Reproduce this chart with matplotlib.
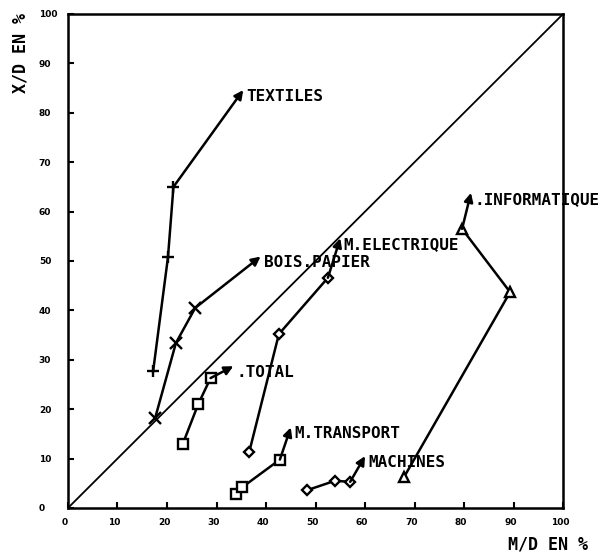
import matplotlib
matplotlib.use('Agg')
import matplotlib.pyplot as plt
from matplotlib.transforms import ScaledTranslation

# Sector trajectories: M/D (x) vs X/D (y), in %, *_tip is where the arrow points
textiles_x = [17.2, 20.2, 21.3]
textiles_y = [27.7, 50.8, 65.0]
textiles_tip = (35.4, 84.6)

bois_x = [17.6, 21.8, 25.7]
bois_y = [18.2, 33.4, 40.5]
bois_tip = (38.9, 50.9)

total_x = [23.2, 26.3, 28.8]
total_y = [13.0, 21.0, 26.3]
total_tip = (33.4, 28.7)

transport_x = [33.9, 35.2, 42.8]
transport_y = [2.8, 4.2, 9.8]
transport_tip = (45.0, 16.3)

elec_x = [36.6, 42.6, 52.5]
elec_y = [11.3, 35.2, 46.6]
elec_tip = (55.0, 54.6)

machines_x = [48.3, 53.9, 57.0]
machines_y = [3.6, 5.5, 5.3]
machines_tip = (60.0, 10.5)

info_x = [67.9, 89.3, 79.6]
info_y = [6.3, 43.7, 56.5]
info_tip = (81.4, 63.8)

ticks = [0, 10, 20, 30, 40, 50, 60, 70, 80, 90, 100]

series = [
    ('TEXTILES', textiles_x, textiles_y, textiles_tip, '+'),
    ('BOIS.PAPIER', bois_x, bois_y, bois_tip, 'x'),
    ('.TOTAL', total_x, total_y, total_tip, 's'),
    ('M.TRANSPORT', transport_x, transport_y, transport_tip, 's'),
    ('M.ELECTRIQUE', elec_x, elec_y, elec_tip, 'D'),
    ('MACHINES', machines_x, machines_y, machines_tip, 'D'),
    ('.INFORMATIQUE', info_x, info_y, info_tip, '^'),
]

marker_size = {'+': 8, 'x': 9, 's': 7.5, 'D': 5.5, '^': 7}

fig = plt.figure(figsize=(5.99, 5.53), dpi=100)
ax = fig.add_axes([0.1135, 0.0814, 0.8265, 0.8933])

# bisector M/D = X/D
ax.plot([0, 100], [0, 100], color='black', lw=1.3)

for label, xs, ys, tip, mk in series:
    ax.plot(xs, ys, color='black', lw=1.8, marker=mk, ms=marker_size[mk],
            mfc='white' if mk in 'sD^' else 'black', mec='black', mew=1.7,
            zorder=3)
    ax.annotate('', xy=tip, xytext=(xs[-1], ys[-1]),
                arrowprops=dict(arrowstyle='-|>', color='black', lw=1.8,
                                mutation_scale=13, shrinkA=0, shrinkB=0))
    ax.annotate(label, xy=tip, xytext=(2.5, -4.5), textcoords='offset points',
                ha='left', va='center', fontsize=11.5, fontweight='bold',
                family='DejaVu Sans Mono', annotation_clip=False)

ax.set_xlim(0, 100)
ax.set_ylim(0, 100)
ax.set_xticks(ticks)
ax.set_yticks(ticks)
ax.tick_params(direction='in', length=4, width=1.5, labelsize=6.5,
               top=False, right=False)
ax.tick_params(axis='x', pad=7)
ax.tick_params(axis='y', pad=21)
shift = ScaledTranslation(-3 / 100, 0, fig.dpi_scale_trans)
for lab in ax.get_xticklabels():
    lab.set_fontweight('bold')
    lab.set_transform(lab.get_transform() + shift)
for lab in ax.get_yticklabels():
    lab.set_fontweight('bold')
    lab.set_horizontalalignment('left')
for sp in ax.spines.values():
    sp.set_linewidth(1.8)

fig.text(0.035, 0.905, 'X/D EN %', rotation=90, ha='center', va='center',
         fontsize=12, fontweight='bold', family='DejaVu Sans Mono')
fig.text(0.982, 0.015, 'M/D EN %', ha='right', va='center',
         fontsize=12, fontweight='bold', family='DejaVu Sans Mono')

plt.savefig('out.png', dpi=100)
plt.close()
